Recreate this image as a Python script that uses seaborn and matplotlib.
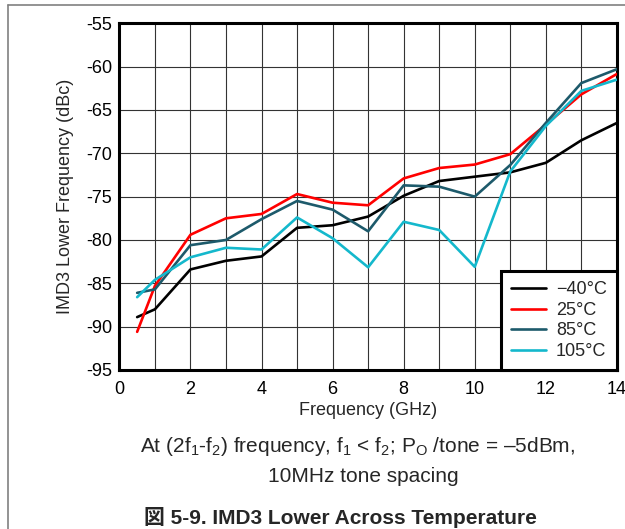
import matplotlib
matplotlib.use("Agg")
import matplotlib.pyplot as plt
from matplotlib.lines import Line2D
import seaborn as sns
import pandas as pd

freq = [0.5, 1, 2, 3, 4, 5, 6, 7, 8, 9, 10, 11, 12, 13, 14]
t_m40 = [-88.9, -88.0, -83.4, -82.4, -81.9, -78.6, -78.3, -77.3, -74.9, -73.2, -72.7, -72.2, -71.1, -68.5, -66.5]
t_25 = [-90.6, -85.3, -79.4, -77.5, -77.0, -74.7, -75.7, -76.0, -72.9, -71.7, -71.3, -70.1, -66.7, -63.2, -60.85]
t_85 = [-86.1, -85.7, -80.6, -80.0, -77.6, -75.5, -76.5, -79.0, -73.7, -73.85, -75.0, -71.35, -66.5, -61.9, -60.3]
t_105 = [-86.6, -84.6, -82.0, -80.9, -81.1, -77.4, -79.8, -83.15, -77.9, -78.85, -83.1, -72.1, -66.85, -62.8, -61.5]
labels = ["\u221240\u00b0C", "25\u00b0C", "85\u00b0C", "105\u00b0C"]
colors = ["#000000", "#ff0000", "#1d5a6b", "#14b8cc"]
x_ticks = [0, 2, 4, 6, 8, 10, 12, 14]
y_ticks = [-95, -90, -85, -80, -75, -70, -65, -60, -55]

rows = []
for lab, vals in zip(labels, [t_m40, t_25, t_85, t_105]):
    for f, v in zip(freq, vals):
        rows.append({"Frequency": f, "IMD3": v, "Temp": lab})
df = pd.DataFrame(rows)

sns.set_theme(style="white")
plt.rcParams['font.family'] = ['Liberation Sans', 'Noto Sans CJK JP', 'DejaVu Sans']
plt.rcParams['axes.unicode_minus'] = False
plt.rcParams['mathtext.fontset'] = 'custom'
plt.rcParams['mathtext.rm'] = 'Liberation Sans'
plt.rcParams['mathtext.it'] = 'Liberation Sans'

fig = plt.figure(figsize=(6.25, 5.29), dpi=100)
ax = fig.add_axes([0.191, 0.3006, 0.796, 0.6554])

sns.lineplot(data=df, x="Frequency", y="IMD3", hue="Temp", palette=dict(zip(labels, colors)),
             linewidth=1.9, ax=ax, legend=False, zorder=3)

ax.set_xlim(0, 14)
ax.set_ylim(-95, -55)
ax.set_xticks(x_ticks)
ax.set_xticks(list(range(0, 15)), minor=True)
ax.set_yticks(y_ticks)
ax.set_xticklabels([str(t) for t in x_ticks], fontsize=13)
ax.set_yticklabels([str(t) for t in y_ticks], fontsize=13)
ax.tick_params(which='both', length=0, colors='black')
ax.tick_params(axis='x', pad=8)
ax.tick_params(axis='y', pad=5)
ax.grid(True, which='both', axis='x', color='#333333', linewidth=0.8, zorder=1)
ax.grid(True, which='major', axis='y', color='#333333', linewidth=0.8, zorder=1)
for s in ax.spines.values():
    s.set_color('black')
    s.set_linewidth(2.2)
ax.set_xlabel("Frequency (GHz)", fontsize=13, labelpad=3)
ax.set_ylabel("IMD3 Lower Frequency (dBc)", fontsize=13, labelpad=9)

handles = [Line2D([0], [0], color=c, lw=1.9) for c in colors]
leg = ax.legend(handles, labels, loc='lower right', fontsize=13, frameon=True, fancybox=False,
                framealpha=1, edgecolor='black', borderaxespad=0.0, handlelength=1.95,
                labelspacing=0.2, borderpad=0.55, handletextpad=0.55)
leg.get_frame().set_linewidth(2.2)

fig.text(0.572, 1 - 446 / 529, "At (2f$_1$-f$_2$) frequency, f$_1$ < f$_2$; P$_\\mathrm{O}$ /tone = \u20135dBm,",
         ha='center', va='center', fontsize=15)
fig.text(0.582, 1 - 476 / 529, "10MHz tone spacing", ha='center', va='center', fontsize=15)
fig.text(0.545, 1 - 517 / 529, "図 5-9. IMD3 Lower Across Temperature", ha='center', va='center',
         fontsize=15, fontweight='bold')

fig.add_artist(Line2D([8 / 625, 8 / 625], [0, 1 - 5 / 529], transform=fig.transFigure, color='#808080', lw=1.2))
fig.add_artist(Line2D([8 / 625, 1], [1 - 5 / 529, 1 - 5 / 529], transform=fig.transFigure, color='#808080', lw=1.2))

fig.savefig("out.png", dpi=100)
